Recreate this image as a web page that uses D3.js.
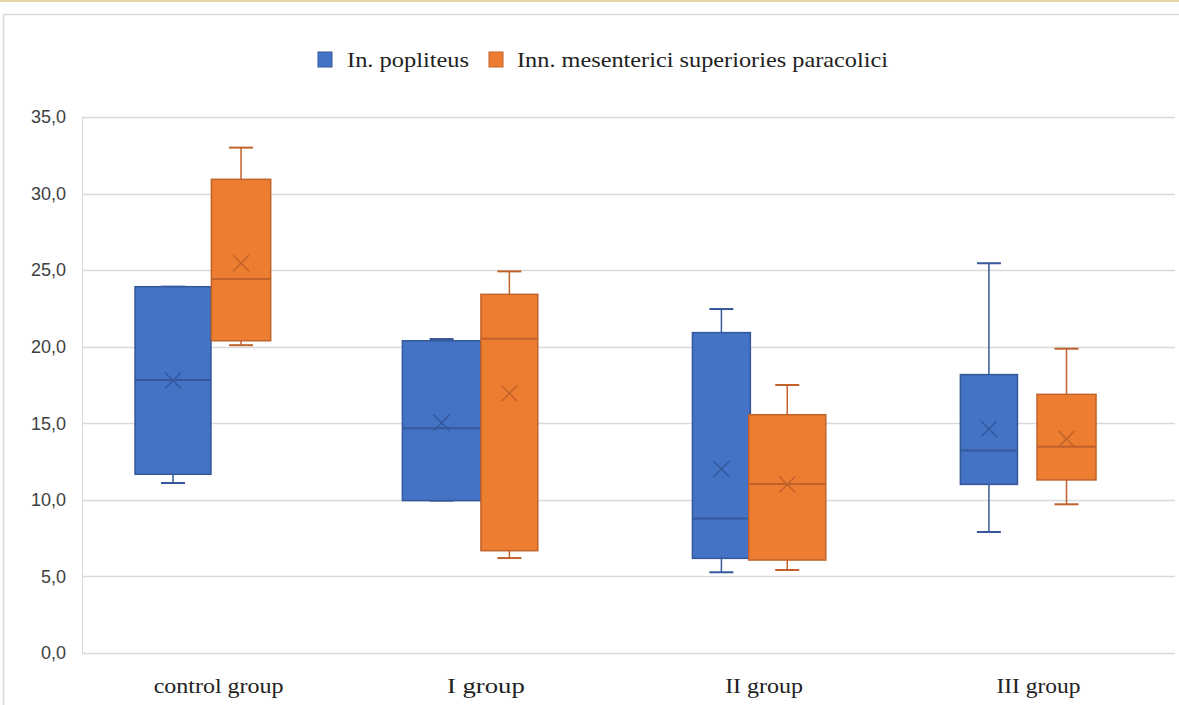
<!DOCTYPE html>
<html>
<head>
<meta charset="utf-8">
<script src="https://cdn.jsdelivr.net/npm/d3@7"></script>
<style>
  html, body { margin: 0; padding: 0; background: #fff; }
  svg { display: block; }
</style>
</head>
<body>
<svg id="chart" width="1179" height="705"></svg>
<script>
// ---- DATA ----
const categories = ["control group", "I group", "II group", "III group"];
const seriesNames = ["In. popliteus", "Inn. mesenterici superiories paracolici"];
const yTicks = [0, 5, 10, 15, 20, 25, 30, 35];

// In. popliteus
const popMin    = [11.1, 9.95, 5.27, 7.9];
const popQ1     = [11.67, 9.95, 6.18, 11.01];
const popMedian = [17.83, 14.67, 8.79, 13.23];
const popQ3     = [23.92, 20.39, 20.92, 18.18];
const popMax    = [23.92, 20.5, 22.46, 25.45];
const popMean   = [17.8, 15.04, 12.01, 14.63];

// Inn. mesenterici superiories paracolici
const mesMin    = [20.1, 6.2, 5.42, 9.71];
const mesQ1     = [20.39, 6.68, 6.07, 11.3];
const mesMedian = [24.42, 20.52, 11.04, 13.47];
const mesQ3     = [30.93, 23.42, 15.56, 16.89];
const mesMax    = [33.0, 24.92, 17.5, 19.87];
const mesMean   = [25.45, 16.95, 11.0, 13.97];

// ---- LAYOUT (fractions of category band width) ----
const boxOffset = [[-0.167, 0.082], [-0.184, 0.064], [-0.160, 0.081], [-0.181, 0.103]];
const boxWidth  = [[0.278, 0.217], [0.287, 0.208], [0.212, 0.282], [0.209, 0.216]];

const fills   = ["#4472C4", "#ED7D31"];
const strokes = ["#34589a", "#c0622a"];

const series = [
  { name: seriesNames[0], min: popMin, q1: popQ1, med: popMedian, q3: popQ3, max: popMax, mean: popMean },
  { name: seriesNames[1], min: mesMin, q1: mesQ1, med: mesMedian, q3: mesQ3, max: mesMax, mean: mesMean }
];

const svg = d3.select("#chart");

// outer decoration
svg.append("rect").attr("x", 0).attr("y", 0).attr("width", 1179).attr("height", 2).attr("fill", "#e8d6ab");
svg.append("rect").attr("x", 3.5).attr("y", 14.5).attr("width", 1190).attr("height", 700)
   .attr("fill", "none").attr("stroke", "#d9d9d9").attr("stroke-width", 1.5);

const plot = { left: 82, right: 1175, top: 117, bottom: 653 };

const y = d3.scaleLinear().domain([0, 35]).range([plot.bottom, plot.top]);
const x = d3.scaleBand().domain(categories).range([plot.left, plot.right]).paddingInner(0).paddingOuter(0);

// gridlines
svg.append("g").selectAll("line").data(yTicks).join("line")
  .attr("x1", plot.left).attr("x2", plot.right)
  .attr("y1", d => Math.round(y(d)) + 0.5).attr("y2", d => Math.round(y(d)) + 0.5)
  .attr("stroke", "#d9d9d9").attr("stroke-width", 1.5);

// left border of plot area
svg.append("line").attr("x1", plot.left + 0.5).attr("x2", plot.left + 0.5)
  .attr("y1", plot.top).attr("y2", plot.bottom).attr("stroke", "#d9d9d9").attr("stroke-width", 1);

// y axis labels
const fmt = d => d3.format(".1f")(d).replace(".", ",");
svg.append("g").selectAll("text").data(yTicks).join("text")
  .attr("x", 66).attr("y", d => y(d))
  .attr("dy", "0.35em")
  .attr("text-anchor", "end")
  .attr("font-family", "'Liberation Sans', Arial, sans-serif")
  .attr("font-size", 18)
  .attr("fill", "#404040")
  .text(fmt);

// x axis labels
const catLen = [130, 78, 78, 84];
const catShift = [0, -6, -1, 0];
svg.append("g").selectAll("text").data(categories).join("text")
  .attr("x", (d, i) => x(d) + x.bandwidth() / 2 + catShift[i])
  .attr("y", 693)
  .attr("text-anchor", "middle")
  .attr("font-family", "'Liberation Serif', 'Times New Roman', serif")
  .attr("font-size", 20)
  .attr("fill", "#222")
  .attr("textLength", (d, i) => catLen[i])
  .attr("lengthAdjust", "spacingAndGlyphs")
  .text(d => d);

// boxes
const bw = x.bandwidth();
series.forEach((s, si) => {
  const g = svg.append("g");
  categories.forEach((c, ci) => {
    const cx = x(c) + bw * (0.5 + boxOffset[ci][si]);
    const w = bw * boxWidth[ci][si];
    const capW = 24;
    // upper whisker
    if (s.max[ci] > s.q3[ci]) {
      g.append("line").attr("x1", cx).attr("x2", cx).attr("y1", y(s.q3[ci])).attr("y2", y(s.max[ci]))
        .attr("stroke", strokes[si]).attr("stroke-width", 1.5);
    }
    g.append("line").attr("x1", cx - capW / 2).attr("x2", cx + capW / 2).attr("y1", y(s.max[ci])).attr("y2", y(s.max[ci]))
      .attr("stroke", strokes[si]).attr("stroke-width", 2);
    // lower whisker
    if (s.min[ci] < s.q1[ci]) {
      g.append("line").attr("x1", cx).attr("x2", cx).attr("y1", y(s.q1[ci])).attr("y2", y(s.min[ci]))
        .attr("stroke", strokes[si]).attr("stroke-width", 1.5);
    }
    g.append("line").attr("x1", cx - capW / 2).attr("x2", cx + capW / 2).attr("y1", y(s.min[ci])).attr("y2", y(s.min[ci]))
      .attr("stroke", strokes[si]).attr("stroke-width", 2);
    // box
    g.append("rect").attr("x", cx - w / 2).attr("y", y(s.q3[ci]))
      .attr("width", w).attr("height", y(s.q1[ci]) - y(s.q3[ci]))
      .attr("fill", fills[si]).attr("stroke", strokes[si]).attr("stroke-width", 1.5);
    // median
    g.append("line").attr("x1", cx - w / 2).attr("x2", cx + w / 2)
      .attr("y1", y(s.med[ci])).attr("y2", y(s.med[ci]))
      .attr("stroke", strokes[si]).attr("stroke-width", 2);
    // mean marker X
    const m = 8, my = y(s.mean[ci]);
    g.append("path").attr("d", `M${cx - m},${my - m}L${cx + m},${my + m}M${cx - m},${my + m}L${cx + m},${my - m}`)
      .attr("stroke", strokes[si]).attr("stroke-width", 1.5).attr("fill", "none");
  });
});

// legend
const legendItems = [
  { x: 318, tx: 347, len: 122 },
  { x: 489, tx: 517, len: 371 }
];
const lg = svg.append("g");
legendItems.forEach((it, i) => {
  lg.append("rect").attr("x", it.x).attr("y", 52).attr("width", 14).attr("height", 15)
    .attr("fill", fills[i]).attr("stroke", strokes[i]).attr("stroke-width", 1);
  lg.append("text").attr("x", it.tx).attr("y", 67)
    .attr("font-family", "'Liberation Serif', 'Times New Roman', serif")
    .attr("font-size", 21).attr("fill", "#222")
    .attr("textLength", it.len).attr("lengthAdjust", "spacingAndGlyphs")
    .text(seriesNames[i]);
});
</script>
</body>
</html>
